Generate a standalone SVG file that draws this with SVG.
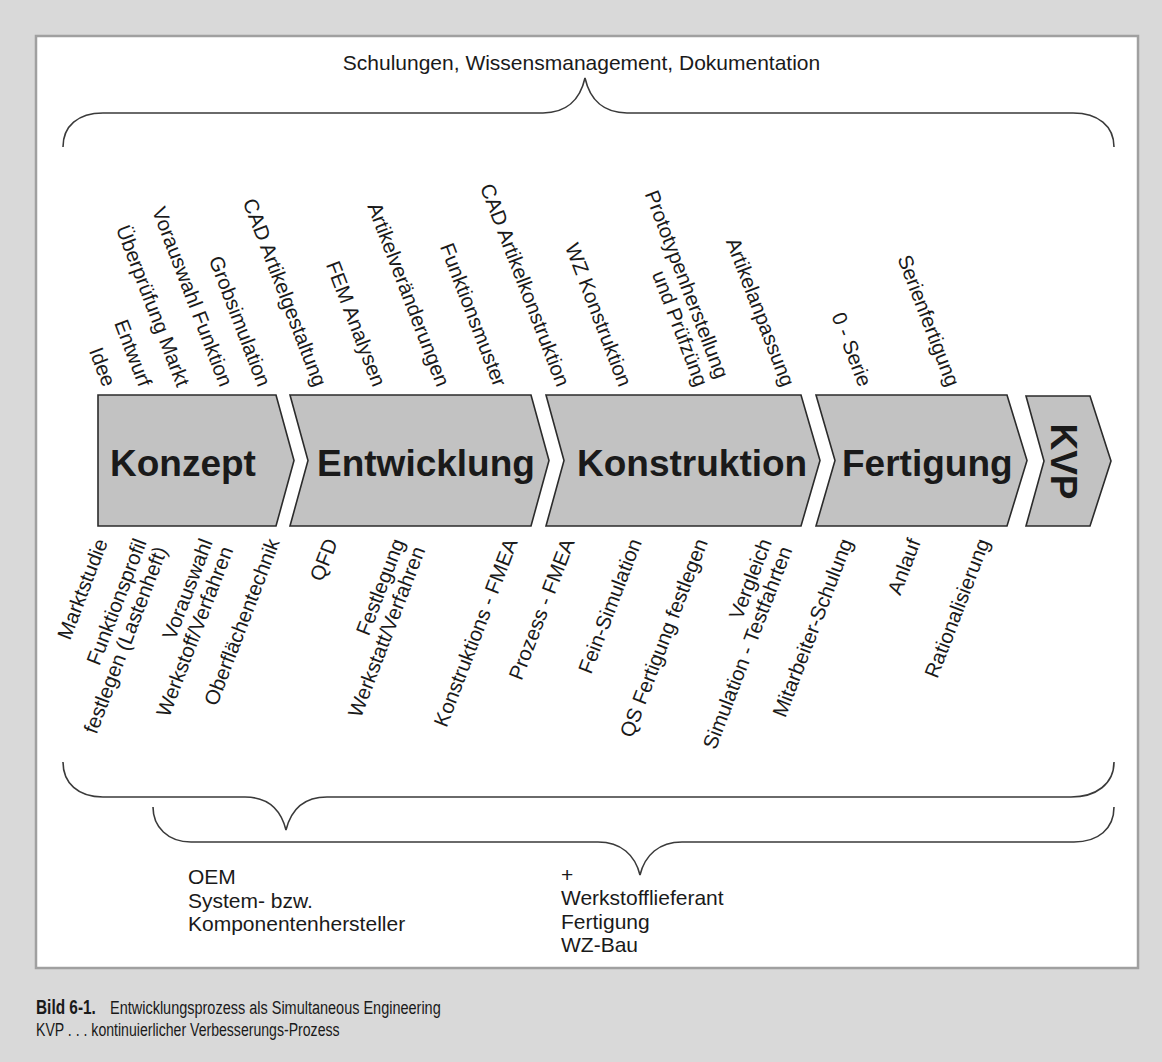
<svg xmlns="http://www.w3.org/2000/svg" width="1162" height="1062" viewBox="0 0 1162 1062">
<style>
.bg{fill:#d9d9d9}
.panel{fill:#ffffff;stroke:#a0a0a0;stroke-width:2.5}
.chev{fill:#c2c2c2;stroke:#2b2b2b;stroke-width:1.6;stroke-linejoin:miter}
.big{font-family:"Liberation Sans",Arial,sans-serif;font-weight:bold;font-size:37px;fill:#1a1a1a}
.lbl{font-family:"Liberation Sans",Arial,sans-serif;font-size:20.5px;fill:#1a1a1a}
.txt{font-family:"Liberation Sans",Arial,sans-serif;font-size:21px;fill:#1a1a1a}
.brace{fill:none;stroke:#3a3a3a;stroke-width:1.6}
.cap{font-family:"Liberation Sans",Arial,sans-serif;font-size:19px;fill:#1a1a1a}
.capb{font-weight:bold;font-size:20px}
</style>
<rect class="bg" x="0" y="0" width="1162" height="1062"/>
<rect class="panel" x="36" y="36" width="1102" height="932"/>

<g id="top-note">
<text class="txt" x="581.5" y="70" text-anchor="middle">Schulungen, Wissensmanagement, Dokumentation</text>
</g>

<g id="braces">
<path class="brace" d="M63,147 C63,126 78,113 103,113 L543,113 C566,113 580,100 585,78 C590,100 604,113 627,113 L1073,113 C1098,113 1114,126 1114,147"/>
<path class="brace" d="M63,762 C63,783 78,797 103,797 L245,797 C268,797 281,810 286,830 C291,810 304,797 327,797 L1071,797 C1096,797 1114,784 1114,762"/>
<path class="brace" d="M153,807 C153,827 168,842 191,842 L598,842 C621,842 635,855 640,875 C645,855 659,842 682,842 L1074,842 C1098,842 1114,829 1114,807"/>
</g>

<g id="konzept">
<path class="chev" d="M98,395 L276,395 L294,460.5 L276,526 L98,526 Z"/>
<text class="big" x="110" y="476">Konzept</text>
</g>
<g id="entwicklung">
<path class="chev" d="M290,395 L531,395 L549,460.5 L531,526 L290,526 L308,460.5 Z"/>
<text class="big" x="317" y="476">Entwicklung</text>
</g>
<g id="konstruktion">
<path class="chev" d="M546,395 L801,395 L820,460.5 L801,526 L546,526 L564,460.5 Z"/>
<text class="big" x="577" y="476">Konstruktion</text>
</g>
<g id="fertigung">
<path class="chev" d="M816,395 L1007,395 L1027,460.5 L1007,526 L816,526 L835,460.5 Z"/>
<text class="big" x="842" y="476">Fertigung</text>
</g>
<g id="kvp">
<path class="chev" d="M1026,396 L1090,396 L1111,461 L1090,526 L1026,526 L1044,461 Z"/>
<text class="big" transform="translate(1051,461.5) rotate(90)" text-anchor="middle" x="0" y="0">KVP</text>
</g>

<g id="top-labels" class="lbl" text-anchor="end">
<text transform="translate(103,388) rotate(69)">Idee</text>
<text transform="translate(139,388) rotate(69)">Entwurf</text>
<text transform="translate(177,388) rotate(69)">Überprüfung Markt</text>
<text transform="translate(220,388) rotate(69)">Vorauswahl Funktion</text>
<text transform="translate(258,388) rotate(69)">Grobsimulation</text>
<text transform="translate(314,388) rotate(69)">CAD Artikelgestaltung</text>
<text transform="translate(373,388) rotate(69)">FEM Analysen</text>
<text transform="translate(437,388) rotate(69)">Artikelveränderungen</text>
<text transform="translate(494,388) rotate(69)">Funktionsmuster</text>
<text transform="translate(557,388) rotate(69)">CAD Artikelkonstruktion</text>
<text transform="translate(619,388) rotate(69)">WZ Konstruktion</text>
<text transform="translate(716,380) rotate(69)"><tspan x="0" y="0">Prototypenherstellung</tspan><tspan x="0" y="22">und Prüfzüng</tspan></text>
<text transform="translate(782,388) rotate(69)">Artikelanpassung</text>
<text transform="translate(859,388) rotate(69)">0 - Serie</text>
<text transform="translate(947,388) rotate(69)">Serienfertigung</text>
</g>

<g id="bottom-labels" class="lbl" text-anchor="end">
<text transform="translate(108,542) rotate(-69)">Marktstudie</text>
<text transform="translate(147,542) rotate(-69)"><tspan x="0" y="0">Funktionsprofil</tspan><tspan x="0" y="22">festlegen (Lastenheft)</tspan></text>
<text transform="translate(213,542) rotate(-69)"><tspan x="0" y="0">Vorauswahl</tspan><tspan x="0" y="22">Werkstoff/Verfahren</tspan></text>
<text transform="translate(280,542) rotate(-69)">Oberflächentechnik</text>
<text transform="translate(338,542) rotate(-69)">QFD</text>
<text transform="translate(405,542) rotate(-69)"><tspan x="0" y="0">Festlegung</tspan><tspan x="0" y="22">Werkstatt/Verfahren</tspan></text>
<text transform="translate(518,542) rotate(-69)">Konstruktions - FMEA</text>
<text transform="translate(575,542) rotate(-69)">Prozess - FMEA</text>
<text transform="translate(642,542) rotate(-69)">Fein-Simulation</text>
<text transform="translate(708,542) rotate(-69)">QS Fertigung festlegen</text>
<text transform="translate(772,542) rotate(-69)"><tspan x="0" y="0">Vergleich</tspan><tspan x="0" y="22">Simulation - Testfahrten</tspan></text>
<text transform="translate(853,542) rotate(-69)">Mitarbeiter-Schulung</text>
<text transform="translate(921,542) rotate(-69)">Anlauf</text>
<text transform="translate(990,542) rotate(-69)">Rationalisierung</text>
</g>

<g id="oem-block">
<text class="txt"><tspan x="188" y="884">OEM</tspan><tspan x="188" y="907.5">System- bzw.</tspan><tspan x="188" y="931">Komponentenhersteller</tspan></text>
</g>
<g id="supplier-block">
<text class="txt"><tspan x="561" y="882">+</tspan><tspan x="561" y="905">Werkstofflieferant</tspan><tspan x="561" y="928.5">Fertigung</tspan><tspan x="561" y="952">WZ-Bau</tspan></text>
</g>

<g id="caption">
<text class="cap capb" transform="translate(36,1014) scale(0.77,1)">Bild 6-1.</text>
<text class="cap" transform="translate(110,1014) scale(0.763,1)">Entwicklungsprozess als Simultaneous Engineering</text>
<text class="cap" transform="translate(36,1036) scale(0.742,1)">KVP . . . kontinuierlicher Verbesserungs-Prozess</text>
</g>
</svg>
